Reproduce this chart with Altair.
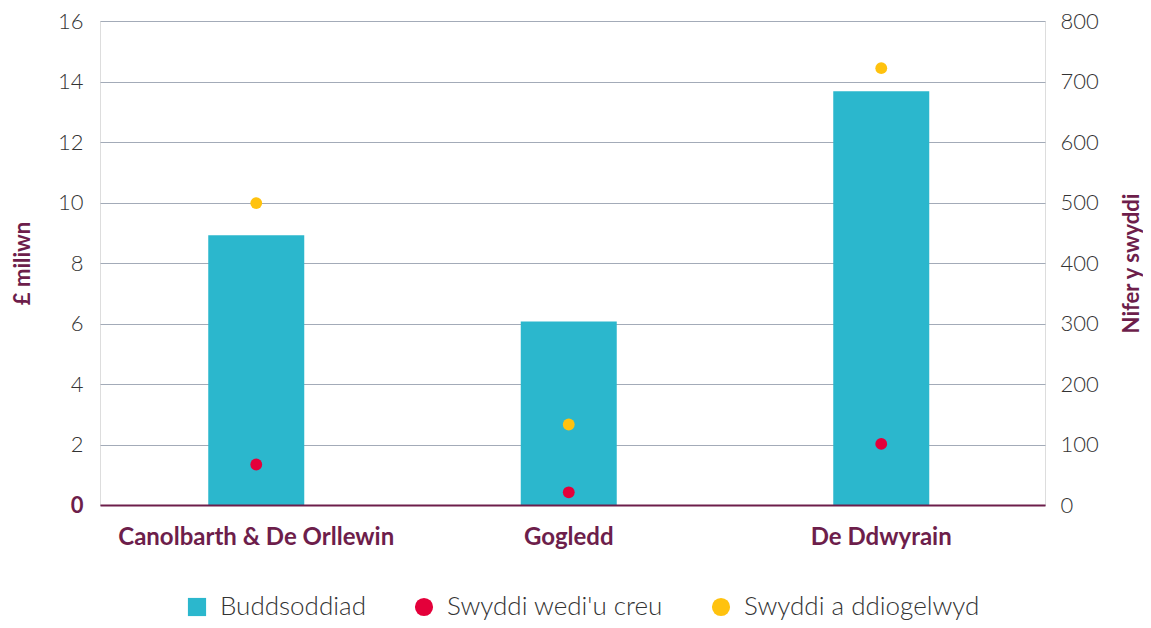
import altair as alt
import pandas as pd

regions = ["Canolbarth & De Orllewin", "Gogledd", "De Ddwyrain"]
investment = [8.92, 6.07, 13.68]
jobs_created = [67, 21, 101]
jobs_safeguarded = [499, 133, 722]
series_names = ["Buddsoddiad", "Swyddi wedi'u creu", "Swyddi a ddiogelwyd"]
series_colors = ["#2bb7cd", "#e4003a", "#ffc20e"]
series_shapes = ["square", "circle", "circle"]
left_ticks = [0, 2, 4, 6, 8, 10, 12, 14, 16]
right_ticks = [0, 100, 200, 300, 400, 500, 600, 700, 800]

MAROON = "#6d1e4b"
TEXT = "#333333"
FONT = "Lato"

bar_df = pd.DataFrame({"region": regions, "value": investment,
                       "series": [series_names[0]] * len(regions)})
pt_df = pd.DataFrame({
    "region": regions * 2,
    "value": jobs_created + jobs_safeguarded,
    "series": [series_names[1]] * len(regions) + [series_names[2]] * len(regions),
})

x_enc = alt.X("region:N", sort=regions,
              scale=alt.Scale(paddingInner=0, paddingOuter=0.012, align=0),
              axis=alt.Axis(title=None, labelAngle=0, labelFontSize=24, labelFontWeight="bold",
                            labelColor=MAROON, labelFont=FONT, ticks=False, domainColor=MAROON,
                            domainWidth=2, labelPadding=20, labelLimit=0, zindex=1))

legend = alt.Legend(title=None, orient="none", direction="horizontal", legendX=84, legendY=573,
                    labelFontSize=26, labelFont=FONT, labelColor=TEXT, labelFontWeight=300,
                    labelLimit=0, symbolSize=330, columnPadding=45, labelOffset=10,
                    symbolStrokeWidth=0)

color = alt.Color("series:N", scale=alt.Scale(domain=series_names, range=series_colors), legend=legend)
shape = alt.Shape("series:N", scale=alt.Scale(domain=series_names, range=series_shapes), legend=legend)

bars = alt.Chart(bar_df).mark_bar(size=96).encode(
    x=x_enc,
    y=alt.Y("value:Q", scale=alt.Scale(domain=[0, 16], nice=False),
            axis=alt.Axis(values=left_ticks, grid=True, gridColor="#a3abb8", gridWidth=1,
                          domain=False, ticks=False, labelFontSize=22, labelFont=FONT,
                          labelFontWeight=alt.condition("datum.value == 0", alt.value("bold"), alt.value(300)),
                          labelColor=alt.condition("datum.value == 0", alt.value(MAROON), alt.value(TEXT)),
                          labelPadding=17, title="£ miliwn", titleFontSize=22, titleFont=FONT,
                          titleColor=MAROON, titleFontWeight="bold", titlePadding=23)),
    color=color,
)

points = alt.Chart(pt_df).mark_point(filled=True, size=140, opacity=1).encode(
    x=x_enc,
    y=alt.Y("value:Q", scale=alt.Scale(domain=[0, 800], nice=False),
            axis=alt.Axis(orient="right", values=right_ticks, grid=False, domain=False, ticks=False,
                          labelFontSize=22, labelFont=FONT, labelFontWeight=300, labelColor=TEXT,
                          labelPadding=15, title="Nifer y swyddi", titleFontSize=22, titleFont=FONT,
                          titleColor=MAROON, titleFontWeight="bold", titleAngle=270, titlePadding=45)),
    color=color,
    shape=shape,
)

chart = alt.layer(bars, points).resolve_scale(y="independent").properties(
    width=945, height=484,
    autosize=alt.AutoSizeParams(type="none"),
    padding={"left": 92, "top": 13, "right": 98, "bottom": 115},
).configure_view(stroke=None).configure(font=FONT)

chart.save("out.html", embed_options={"renderer": "svg", "actions": False})
